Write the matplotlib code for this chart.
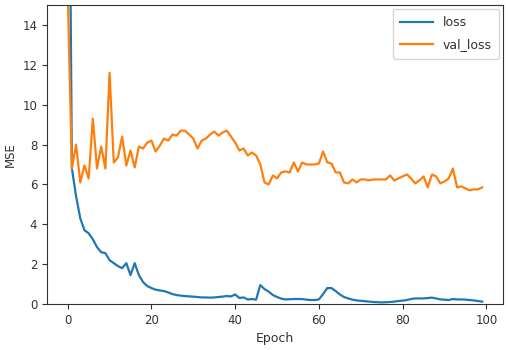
import matplotlib
matplotlib.use("Agg")
import matplotlib.pyplot as plt
import numpy as np

epochs = list(range(100))
loss = [34, 6.8, 5.4, 4.3, 3.7, 3.55, 3.25, 2.85, 2.6, 2.55,
        2.2, 2.05, 1.9, 1.8, 2.05, 1.45, 2.05, 1.45, 1.1, 0.9,
        0.8, 0.72, 0.68, 0.65, 0.58, 0.5, 0.45, 0.42, 0.4, 0.38,
        0.37, 0.35, 0.33, 0.33, 0.32, 0.33, 0.35, 0.37, 0.4, 0.38,
        0.48, 0.3, 0.33, 0.23, 0.25, 0.22, 0.95, 0.75, 0.62, 0.45,
        0.35, 0.27, 0.23, 0.24, 0.25, 0.25, 0.25, 0.22, 0.2, 0.2,
        0.23, 0.5, 0.8, 0.8, 0.65, 0.48, 0.35, 0.28, 0.22, 0.18,
        0.16, 0.14, 0.12, 0.1, 0.09, 0.08, 0.09, 0.1, 0.12, 0.15,
        0.17, 0.2, 0.25, 0.28, 0.28, 0.28, 0.3, 0.32, 0.28, 0.23,
        0.22, 0.2, 0.25, 0.23, 0.23, 0.22, 0.2, 0.18, 0.15, 0.12]
val_loss = [15.7, 6.8, 8.0, 6.1, 6.95, 6.3, 9.3, 6.8, 7.9, 6.8,
            11.6, 7.1, 7.35, 8.4, 6.95, 7.7, 6.85, 7.9, 7.8, 8.1,
            8.2, 7.65, 7.95, 8.3, 8.2, 8.5, 8.45, 8.7, 8.7, 8.5,
            8.3, 7.8, 8.2, 8.3, 8.5, 8.65, 8.45, 8.6, 8.7, 8.4,
            8.1, 7.7, 7.8, 7.45, 7.6, 7.45, 7.0, 6.1, 6.0, 6.45,
            6.3, 6.6, 6.65, 6.6, 7.1, 6.65, 7.1, 7.0, 7.0, 7.0,
            7.05, 7.65, 7.1, 7.05, 6.6, 6.6, 6.1, 6.05, 6.25, 6.1,
            6.25, 6.25, 6.2, 6.25, 6.25, 6.25, 6.25, 6.45, 6.2, 6.3,
            6.4, 6.5, 6.3, 6.05, 6.2, 6.4, 5.85, 6.5, 6.4, 6.05,
            6.15, 6.3, 6.8, 5.85, 5.9, 5.8, 5.7, 5.75, 5.75, 5.85]

plt.rcParams['font.family'] = ['DejaVu Sans']
plt.rcParams['font.size'] = 8.5

fig = plt.figure(figsize=(5.08, 3.5), dpi=100)
ax = fig.add_axes([0.0925, 0.1314, 0.8975, 0.8543])
ax.plot(epochs, loss, color='#1f77b4', lw=1.6, label='loss')
ax.plot(epochs, val_loss, color='#ff7f0e', lw=1.6, label='val_loss')
ax.set_ylim(0, 15)
ax.set_yticks([0, 2, 4, 6, 8, 10, 12, 14])
ax.set_xticks([0, 20, 40, 60, 80, 100])
ax.tick_params(labelsize=8.5, colors='#333333', labelcolor='#333333')
for s in ax.spines.values():
    s.set_color('#333333')
ax.set_xlabel('Epoch', fontsize=9, color='#333333')
ax.set_ylabel('MSE', fontsize=8.5, color='#333333')
leg = ax.legend(loc='upper right', fontsize=9, handlelength=2.6,
                borderaxespad=0.3, labelspacing=0.7, borderpad=0.6)
for t in leg.get_texts():
    t.set_color('#333333')
fig.savefig('out.png', dpi=100)
